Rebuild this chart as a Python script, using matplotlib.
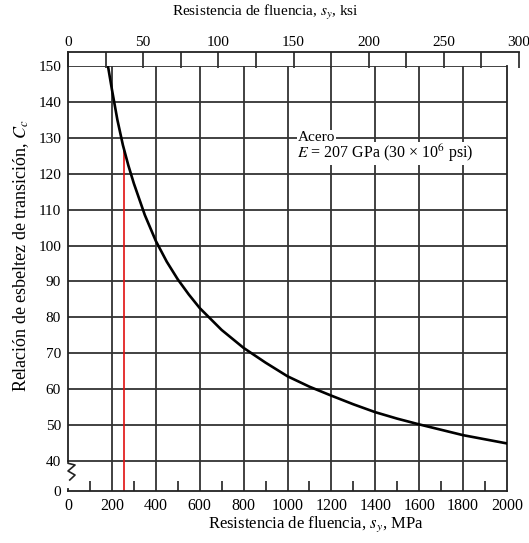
import numpy as np
import matplotlib
matplotlib.use("Agg")
import matplotlib.pyplot as plt
from matplotlib.ticker import MultipleLocator, FixedLocator

# Values (yield strength in MPa vs transition slenderness Cc)
sy_mpa = [182, 200, 225, 250, 275, 300, 350, 400, 450, 500, 550, 600, 700, 800,
          900, 1000, 1100, 1200, 1300, 1400, 1500, 1600, 1800, 2000]
cc = [150, 143.5, 135.0, 128.0, 122.3, 117.3, 108.5, 101.3, 95.5, 90.6, 86.4,
      82.6, 76.5, 71.5, 67.4, 63.6, 60.7, 58.2, 55.8, 53.6, 51.8, 50.2, 47.2, 44.9]

# red marker line (A36-type steel)
red_sy = 255
red_cc = 126.5

y_ticks = [0, 40, 50, 60, 70, 80, 90, 100, 110, 120, 130, 140, 150]
x_ticks = [0, 200, 400, 600, 800, 1000, 1200, 1400, 1600, 1800, 2000]
ksi_ticks = [0, 50, 100, 150, 200, 250, 300]

plt.rcParams["font.family"] = ["Liberation Serif", "DejaVu Serif"]
plt.rcParams["mathtext.fontset"] = "stix"

W, H = 529, 543
fig = plt.figure(figsize=(W / 100, H / 100), dpi=100)

# pixel layout of the scan
x0, x1 = 68, 507        # 0 .. 2000 MPa
y_top, y_bot = 66, 491  # 150 .. 0
strip_top, strip_right = 52, 519

ax = fig.add_axes([x0 / W, 1 - y_bot / H, (x1 - x0) / W, (y_bot - y_top) / H])

# broken y axis: 0..40 squeezed into a short band
k = 0.2086


def fwd(v):
    v = np.asarray(v, dtype=float)
    return np.where(v >= 40, v, 40 - (40 - v) * k)


def inv(u):
    u = np.asarray(u, dtype=float)
    return np.where(u >= 40, u, 40 - (40 - u) / k)


ax.set_yscale("function", functions=(fwd, inv))
ax.set_xlim(0, 2000)
ax.set_ylim(0, 150)

ax.yaxis.set_major_locator(FixedLocator(y_ticks))
ax.xaxis.set_major_locator(FixedLocator(x_ticks))
ax.xaxis.set_minor_locator(FixedLocator([v for v in range(100, 2000, 200)]))
ax.yaxis.set_minor_locator(FixedLocator([]))

grid_col = "#333333"
for v in x_ticks[1:-1]:
    ax.axvline(v, color=grid_col, lw=1.3, zorder=1)
for v in y_ticks[1:]:
    ax.axhline(v, color=grid_col, lw=1.3, zorder=1)

ax.plot(sy_mpa, cc, color="black", lw=1.9, zorder=3)
ax.plot([red_sy, red_sy], [0, red_cc], color="#e01010", lw=1.2, zorder=2)

ax.tick_params(axis="both", which="major", length=0, pad=5)
ax.tick_params(axis="x", which="major", labelsize=11.5)
ax.tick_params(axis="y", which="major", labelsize=11)
ax.tick_params(axis="x", which="minor", direction="in", length=7, width=1.3,
               color=grid_col)
for s in ax.spines.values():
    s.set_linewidth(1.3)
    s.set_color("#222222")
ax.spines["top"].set_visible(False)
ax.spines["left"].set_bounds(40, 150)

# zigzag break mark on the left axis
zz_x = [0.0, 0.0, 0.016, 0.0, 0.016, 0.004]
zz_y = [40, 37, 34.7, 26.7, 21.3, 14.7]
ax.plot(zz_x, zz_y, color="#222222", lw=1.2,
        transform=ax.get_yaxis_transform(), clip_on=False, zorder=4)
ax.plot([0, 0], [0, 3], color="#222222", lw=1.3,
        transform=ax.get_yaxis_transform(), clip_on=False, zorder=4)

# annotation with white background
bbox = dict(facecolor="white", edgecolor="none", pad=0.5)
ax.text(1045, 125.6, "$E$ = 207 GPa (30 × 10$^6$ psi)", fontsize=11.5,
        ha="left", va="center", bbox=bbox, zorder=5)
ax.text(1045, 130.2, "Acero", fontsize=11, ha="left", va="center", bbox=bbox,
        zorder=6)

# top ksi strip
ax2 = fig.add_axes([x0 / W, 1 - y_top / H, (strip_right - x0) / W,
                    (y_top - strip_top) / H])
ax2.set_xlim(0, 300)
ax2.set_ylim(0, 1)
ax2.set_yticks([])
ax2.patch.set_alpha(0)
ax2.xaxis.set_major_locator(FixedLocator(ksi_ticks))
ax2.xaxis.set_minor_locator(MultipleLocator(25))
ax2.xaxis.tick_top()
strip_len = (y_top - strip_top + 2) * 0.72
ax2.tick_params(axis="x", which="both", direction="in", length=strip_len,
                width=1.3, color=grid_col, labelsize=11, pad=2)
ax2.spines["bottom"].set_visible(False)
ax2.spines["right"].set_visible(False)
for s in ("top", "left"):
    ax2.spines[s].set_linewidth(1.3)
    ax2.spines[s].set_color("#222222")

fig.text(265 / W, 1 - 13 / H, "Resistencia de fluencia, $s_y$, ksi",
         ha="center", va="center", fontsize=11)
fig.text(316 / W, 1 - 524 / H, "Resistencia de fluencia, $s_y$, MPa",
         ha="center", va="center", fontsize=12)
fig.text(21 / W, 1 - 255 / H, "Relación de esbeltez de transición, $C_c$",
         ha="center", va="center", rotation=90, fontsize=13)

fig.savefig("out.png", dpi=100)
